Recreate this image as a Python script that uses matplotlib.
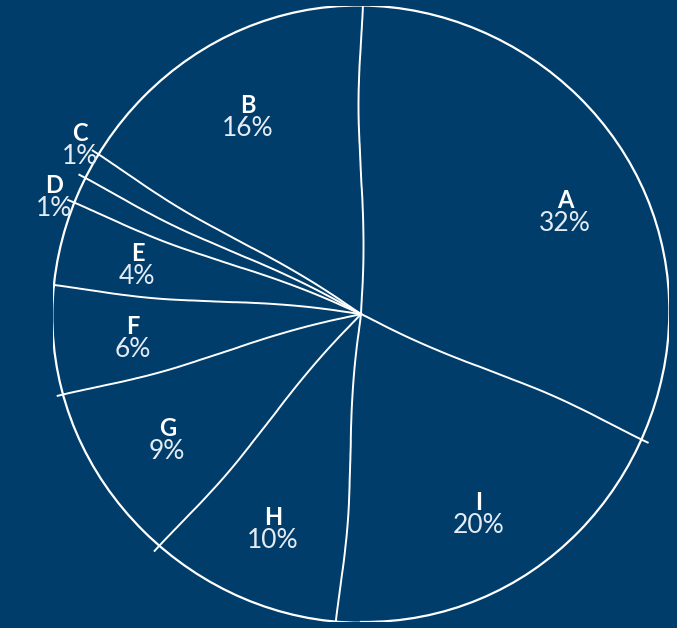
import matplotlib.pyplot as plt
import numpy as np
from matplotlib.patches import Circle

categories = ['A', 'B', 'C', 'D', 'E', 'F', 'G', 'H', 'I']
shares = [31.6, 16.4, 1.4, 1.4, 4.4, 5.7, 9.4, 10.1, 19.6]

bg = '#003d6b'
pct_color = '#e4ebf2'
# small angular nudges so neighbouring labels don't collide
nudge = {'A': -6, 'C': -3, 'D': 2}

fig = plt.figure(figsize=(6.77, 6.28), dpi=100, facecolor=bg)
ax = fig.add_axes([53 / 677, 6 / 628, 616 / 677, 616 / 628])
ax.set_facecolor(bg)

# first slice ends at twelve o'clock, the rest run counter-clockwise
start = 90 - shares[0] / sum(shares) * 360
wedges, _ = ax.pie(shares, startangle=start, radius=1,
                   wedgeprops=dict(facecolor=bg, linewidth=0))

rim = Circle((0, 0), 1, fill=False, ec='white', lw=1.6)
rim.set_sketch_params(0.8, 500, 2)
ax.add_patch(rim)

for w in wedges:
    th = np.deg2rad(w.theta1)
    ln, = ax.plot([0, 1.02 * np.cos(th)], [0, 1.02 * np.sin(th)],
                  color='white', lw=1.4)
    ln.set_sketch_params(2.5, 300, 2)

for w, cat, v in zip(wedges, categories, shares):
    mid = np.deg2rad((w.theta1 + w.theta2) / 2 + nudge.get(cat, 0))
    r = 1.07 if v < 2 else 0.745
    x, y = r * np.cos(mid), r * np.sin(mid)
    ax.text(x, y + 0.004, cat, ha='center', va='baseline', color='white',
            family='Lato', fontweight='bold', fontsize=17)
    ax.text(x, y - 0.006, f'{v:.0f}%', ha='center', va='top',
            color=pct_color, family='Lato', fontweight='normal', fontsize=19)

ax.set_xlim(-1, 1)
ax.set_ylim(-1, 1)
ax.axis('off')

fig.savefig('out.png', dpi=100, facecolor=bg)
